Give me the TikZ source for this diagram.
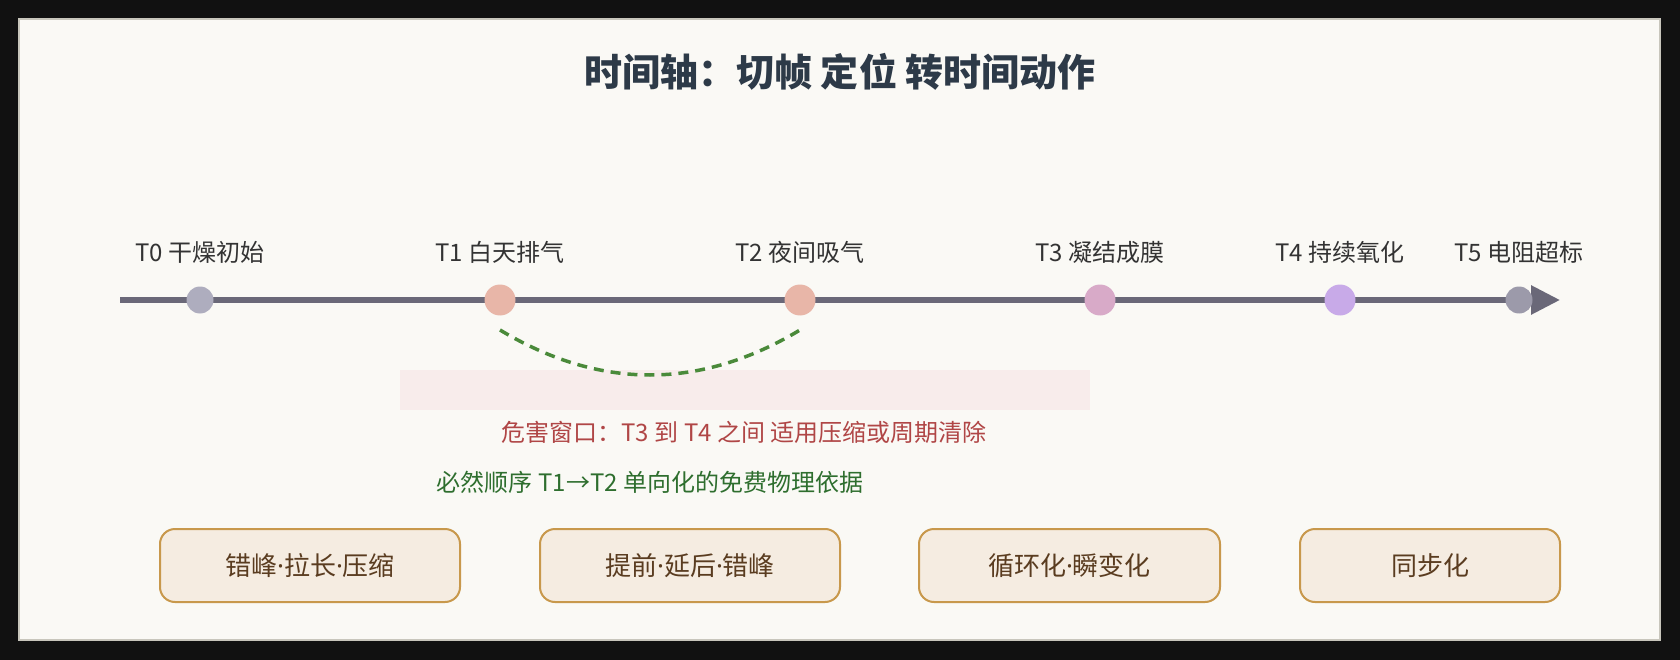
\documentclass[tikz,border=0pt]{standalone}
\usepackage{fontspec}
\setmainfont{Noto Sans CJK SC}
\newfontfamily\latinf{Noto Sans}
\newcommand{\mdot}{{\latinf ·}}
\usetikzlibrary{arrows.meta}
\definecolor{bgdark}{HTML}{111111}
\definecolor{panel}{HTML}{FAF9F5}
\definecolor{panelline}{HTML}{C8C6BC}
\definecolor{titlec}{HTML}{2D3A48}
\definecolor{axisc}{HTML}{6A6878}
\definecolor{dotA}{HTML}{AEADBE}
\definecolor{dotB}{HTML}{E8B6A8}
\definecolor{dotC}{HTML}{D8AAC8}
\definecolor{dotD}{HTML}{C8AAE8}
\definecolor{dotE}{HTML}{9C9AAA}
\definecolor{labelc}{HTML}{333333}
\definecolor{arcc}{HTML}{4A8A3A}
\definecolor{pinkbg}{HTML}{F8ECEB}
\definecolor{redc}{HTML}{B04646}
\definecolor{greenc}{HTML}{2E6E2E}
\definecolor{boxfill}{HTML}{F5ECE1}
\definecolor{boxline}{HTML}{C8984C}
\definecolor{boxtext}{HTML}{5A3C20}
\tikzset{
  tdot/.style={circle, inner sep=0pt, minimum size=31pt},
  tdotsmall/.style={circle, inner sep=0pt, minimum size=27pt},
  tlabel/.style={text=labelc, font=\fontsize{24}{28}\selectfont, inner sep=0pt},
  actbox/.style={draw=boxline, line width=2pt, fill=boxfill, rounded corners=15pt,
     minimum height=73pt, text=boxtext, font=\fontsize{26}{30}\selectfont},
  note/.style={font=\fontsize{24}{28}\selectfont, inner sep=0pt}
}
\begin{document}
\begin{tikzpicture}[x=1pt,y=-1pt]
\useasboundingbox (0,0) rectangle (1680,660);
\fill[bgdark] (0,0) rectangle (1680,660);
\draw[panelline, fill=panel, line width=2pt] (19,19) rectangle (1660,640);

\node[text=titlec, font=\fontsize{38}{45}\selectfont\bfseries] (title) at (840,72) {时间轴：切帧 定位 转时间动作};

% axis
\coordinate (axstart) at (120,300);
\coordinate (axend) at (1560,300);
\draw[axisc, line width=6pt, -{Triangle[length=29pt,width=28pt]}] (axstart) -- (axend);

\node[tdotsmall, fill=dotA] (t0) at (200,300) {};
\node[tdot, fill=dotB] (t1) at (500,300) {};
\node[tdot, fill=dotB] (t2) at (800,300) {};
\node[tdot, fill=dotC] (t3) at (1100,300) {};
\node[tdot, fill=dotD] (t4) at (1340,300) {};
\node[tdotsmall, fill=dotE] (t5) at (1519,300) {};

\node[tlabel] (l0) at (200,252) {T0 干燥初始};
\node[tlabel] (l1) at (500,252) {T1 白天排气};
\node[tlabel] (l2) at (800,252) {T2 夜间吸气};
\node[tlabel] (l3) at (1100,252) {T3 凝结成膜};
\node[tlabel] (l4) at (1340,252) {T4 持续氧化};
\node[tlabel] (l5) at (1519,252) {T5 电阻超标};

% hazard window
\fill[pinkbg] (400,370) rectangle (1090,410);

% dashed arc T1 -> T2
\coordinate (arcA) at (500,330);
\coordinate (arcB) at (800,330);
\coordinate (arcC1) at (600,390);
\coordinate (arcC2) at (700,390);
\draw[arcc, line width=3.5pt, dash pattern=on 10pt off 7pt] (arcA) .. controls (arcC1) and (arcC2) .. (arcB);

\node[note, text=redc] (hazard) at (744,432) {危害窗口：T3 到 T4 之间 适用压缩或周期清除};
\node[note, text=greenc] (order) at (650,482) {必然顺序 T1→T2 单向化的免费物理依据};

% action boxes
\node[actbox, minimum width=300pt] (b1) at (310,565.5) {错峰\mdot 拉长\mdot 压缩};
\node[actbox, minimum width=300pt] (b2) at (690,565.5) {提前\mdot 延后\mdot 错峰};
\node[actbox, minimum width=301pt] (b3) at (1069.5,565.5) {循环化\mdot 瞬变化};
\node[actbox, minimum width=260pt] (b4) at (1430,565.5) {同步化};
\end{tikzpicture}
\end{document}
